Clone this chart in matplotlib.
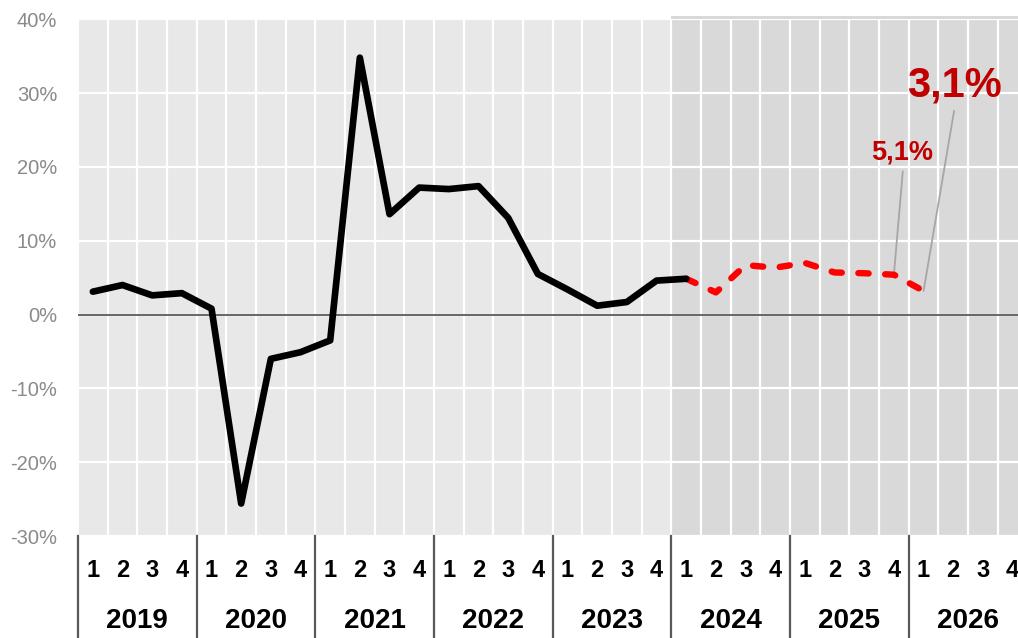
import numpy as np
import matplotlib
matplotlib.use("Agg")
from matplotlib import pyplot as plt
from matplotlib.transforms import blended_transform_factory
from matplotlib.patches import Rectangle

plt.rcParams['font.family'] = ['Liberation Sans', 'DejaVu Sans']

years = [2019, 2020, 2021, 2022, 2023, 2024, 2025, 2026]
quarters = ["1", "2", "3", "4"]

# quarterly growth, % (actuals 2019Q1..2024Q1)
actual = [3.1, 4.0, 2.6, 2.9,
          0.8, -25.6, -6.0, -5.1,
          -3.5, 34.8, 13.6, 17.2,
          17.0, 17.4, 13.1, 5.5,
          3.4, 1.2, 1.7, 4.6,
          4.85]
# forecast 2024Q1..2026Q1
forecast = [4.85, 3.0, 6.7, 6.35, 7.0, 5.7, 5.6, 5.4, 3.2]
label_small = "5,1%"
label_big = "3,1%"

n_q = len(years) * 4
x_act = np.arange(len(actual))
x_fc = np.arange(len(actual) - 1, len(actual) - 1 + len(forecast))

fig = plt.figure(figsize=(10.18, 6.38), dpi=100)
ax = fig.add_axes([78/1018, 102/638, 949.4/1018, 516.7/638])
ax.set_facecolor('#e8e8e8')
ax.set_xlim(-0.5, n_q - 0.5)
ax.set_ylim(-30, 40)
for s in ax.spines.values():
    s.set_visible(False)

# forecast shading
trans = blended_transform_factory(ax.transData, ax.transAxes)
fc_start = len(actual) - 1 - 0.5
ax.add_patch(Rectangle((fc_start, 0), n_q - 0.5 - fc_start, 1.007, transform=trans,
                       facecolor='#d9d9d9', edgecolor='none', zorder=0.5, clip_on=False))

# grid
for v in range(-30, 41, 10):
    ax.axhline(v, color='white', lw=1.6, zorder=1)
for b in np.arange(-0.5, n_q, 1):
    ax.axvline(b, color='white', lw=1.6, zorder=1)
ax.axhline(0, color='#595959', lw=1.3, zorder=2)

ax.plot(x_act, actual, color='black', lw=4.8, solid_joinstyle='round',
        solid_capstyle='round', zorder=4)
ax.plot(x_fc, forecast, color='#ff0000', lw=4.6, dashes=(1.6, 2.6),
        dash_capstyle='round', zorder=3)

# annotations
ax.annotate('', xy=(x_fc[-2], forecast[-2]), xytext=(27.3, 19.4),
            arrowprops=dict(arrowstyle='-', color='#a6a6a6', lw=1.3, shrinkA=0, shrinkB=0),
            zorder=2.5)
ax.annotate('', xy=(x_fc[-1], forecast[-1]), xytext=(29.03, 27.6),
            arrowprops=dict(arrowstyle='-', color='#a6a6a6', lw=1.3, shrinkA=0, shrinkB=0),
            zorder=2.5)
ax.text(27.29, 21.0, label_small, color='#c00000', fontsize=19.5, fontweight='bold',
        ha='center', va='baseline')
ax.text(29.04, 29.5, label_big, color='#c00000', fontsize=30, fontweight='bold',
        ha='center', va='baseline')

# y axis
ax.set_yticks(range(-30, 41, 10))
ax.set_yticklabels([f"{v}%" for v in range(-30, 41, 10)], fontsize=14.5, color='#8a8a8a')
ax.tick_params(axis='y', length=0, pad=15)
ax.set_xticks([])

# quarter / year labels
for i in range(n_q):
    ax.text(i, -0.066, quarters[i % 4], transform=trans, ha='center', va='center',
            fontsize=17, fontweight='bold', color='black', clip_on=False)
for k, yr in enumerate(years):
    ax.text(k * 4 + 1.5, -0.165, str(yr), transform=trans, ha='center', va='center',
            fontsize=20, fontweight='bold', color='black', clip_on=False)
for k in range(len(years) + 1):
    ax.plot([k * 4 - 0.5] * 2, [0, -0.2], transform=trans, color='#595959',
            lw=1.6, clip_on=False)

fig.savefig("out.png", dpi=100)
